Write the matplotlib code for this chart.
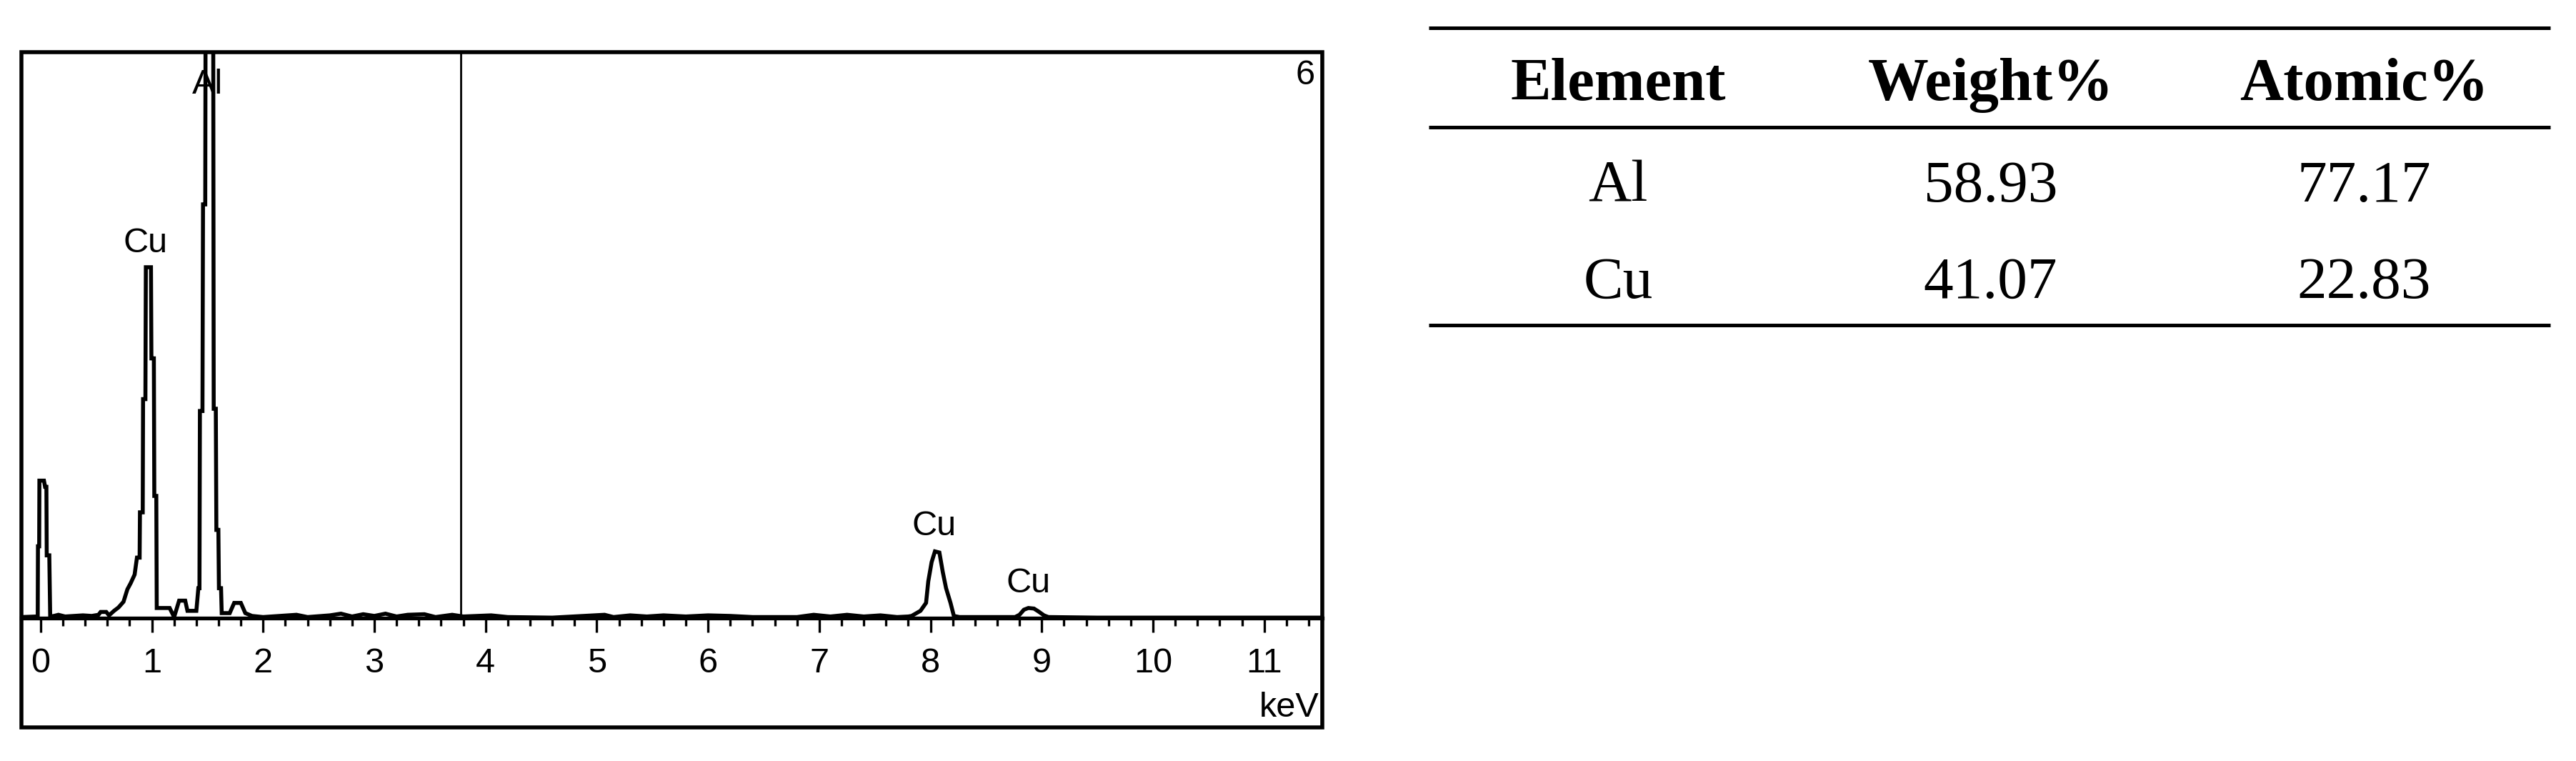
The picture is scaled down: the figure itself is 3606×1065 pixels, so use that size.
"""
EDS spectrum of the Al-Cu sample with the quantification table beside it
"""

import numpy as np
import matplotlib
matplotlib.use('Agg')
import matplotlib.pyplot as plt
from matplotlib.patches import Rectangle
from matplotlib.ticker import MultipleLocator

# spectrum trace (energy in keV, counts in arbitrary units,
# where 1000 is the top of the frame)
energy_kev = [-0.17, -0.035, -0.026, -0.024, -0.013, -0.011, 0.030, 0.040, 0.052, 0.055,
              0.078, 0.086, 0.12, 0.16, 0.22, 0.30, 0.38, 0.46, 0.52, 0.54,
              0.59, 0.615, 0.66, 0.70, 0.745, 0.78, 0.81, 0.845, 0.866, 0.890,
              0.893, 0.918, 0.921, 0.942, 0.946, 0.992, 0.996, 1.018, 1.022, 1.040,
              1.044, 1.16, 1.20, 1.225, 1.245, 1.30, 1.32, 1.40, 1.418, 1.428,
              1.432, 1.455, 1.460, 1.480, 1.485, 1.550, 1.556, 1.575, 1.580, 1.598,
              1.603, 1.622, 1.628, 1.70, 1.74, 1.80, 1.84, 1.90, 2.0, 2.3,
              2.4, 2.6, 2.7, 2.8, 2.9, 3.0, 3.1, 3.2, 3.3, 3.45,
              3.55, 3.7, 3.8, 4.05, 4.2, 4.6, 5.07, 5.15, 5.3, 5.45,
              5.6, 5.8, 6.0, 6.2, 6.4, 6.8, 6.95, 7.1, 7.25, 7.4,
              7.55, 7.7, 7.80, 7.83, 7.91, 7.96, 7.98, 8.01, 8.04, 8.08,
              8.11, 8.14, 8.18, 8.21, 8.26, 8.76, 8.80, 8.84, 8.88, 8.93,
              8.97, 9.02, 9.06, 9.5, 10.5, 11.52]
counts = [2, 3, 3, 127, 127, 243, 243, 232, 232, 111,
          111, 3, 4, 6, 3, 4, 5, 4, 6, 11,
          11, 5, 13, 19, 29, 51, 62, 77, 107, 107,
          187, 187, 387, 387, 620, 620, 459, 459, 216, 216,
          18, 18, 2, 18, 31, 31, 13, 13, 53, 53,
          366, 366, 731, 731, 1300, 1300, 370, 370, 156, 156,
          53, 53, 9, 9, 27, 27, 9, 4, 2, 6,
          2, 5, 8, 3, 7, 4, 8, 3, 6, 7,
          2, 6, 3, 5, 2, 1, 6, 2, 5, 3,
          5, 3, 5, 4, 2, 2, 6, 3, 6, 3,
          5, 2, 3, 4, 13, 27, 65, 99, 118, 116,
          82, 53, 27, 4, 2, 2, 6, 15, 18, 17,
          12, 5, 2, 1, 1, 1]

# peak labels
peak_names = ['Al', 'Cu', 'Cu', 'Cu']
peak_x = [1.50, 0.94, 8.03, 8.88]
peak_y = [943, 662, 163, 61]

cursor_kev = 3.78
spectrum_no = '6'

# quantification table
elements = ['Al', 'Cu']
weight_pct = ['58.93', '41.07']
atomic_pct = ['77.17', '22.83']
headers = ['Element', 'Weight%', 'Atomic%']

fig = plt.figure(figsize=(36.06, 10.65), dpi=100)

# spectrum panel
ax = fig.add_axes([0.0083, 0.0441, 0.5050, 0.8874])
ax.plot(energy_kev, counts, color='black', lw=4.0, solid_joinstyle='miter')
ax.vlines(cursor_kev, 0, 1000, color='black', lw=2.0)
ax.set_xlim(-0.173, 11.522)
ax.set_ylim(-193, 1000)

for sp in ['top', 'left', 'right']:
    ax.spines[sp].set_visible(False)
ax.spines['bottom'].set_position(('data', 0))
ax.spines['bottom'].set_linewidth(3.8)
ax.set_yticks([])
ax.xaxis.set_major_locator(MultipleLocator(1))
ax.xaxis.set_minor_locator(MultipleLocator(0.2))
ax.set_xticks(np.arange(0, 12))
ax.set_xticklabels([str(i) for i in range(12)], fontfamily='Liberation Sans', fontsize=35)
ax.tick_params(axis='x', which='major', direction='out', length=14.5, width=2.4, pad=15)
ax.tick_params(axis='x', which='minor', direction='out', length=8, width=2.4)

for name, px, py in zip(peak_names, peak_x, peak_y):
    ax.text(px, py, name, ha='center', va='center', fontfamily='Liberation Sans', fontsize=35)

ax.text(0.9978, 0.0296, 'keV', transform=ax.transAxes, ha='right', va='center',
        fontfamily='Liberation Sans', fontsize=35)
ax.text(0.987, 0.966, spectrum_no, transform=ax.transAxes, ha='center', va='center',
        fontfamily='Liberation Sans', fontsize=35)

ax.add_patch(Rectangle((0, 0), 1, 1, transform=ax.transAxes, fill=False,
                       lw=4.0, edgecolor='black', clip_on=False))

# table panel
tab = fig.add_axes([0.5546, 0.5728, 0.4354, 0.3906])
tab.set_xlim(0, 1)
tab.set_ylim(0, 1)
tab.axis('off')
for yr in [1.0, 0.665, 0.0]:
    tab.axhline(yr, color='black', lw=3.6, solid_capstyle='butt', clip_on=False)

col_x = [0.169, 0.501, 0.834]
for cx, h in zip(col_x, headers):
    tab.text(cx, 0.757, h, ha='center', va='baseline', fontfamily='Liberation Serif',
             fontweight='bold', fontsize=61)

row_y = [0.416, 0.091]
for ry, el, w, a in zip(row_y, elements, weight_pct, atomic_pct):
    for cx, val in zip(col_x, [el, w, a]):
        tab.text(cx, ry, val, ha='center', va='baseline', fontfamily='Liberation Serif',
                 fontsize=60)

plt.savefig('out.png', dpi=100)
